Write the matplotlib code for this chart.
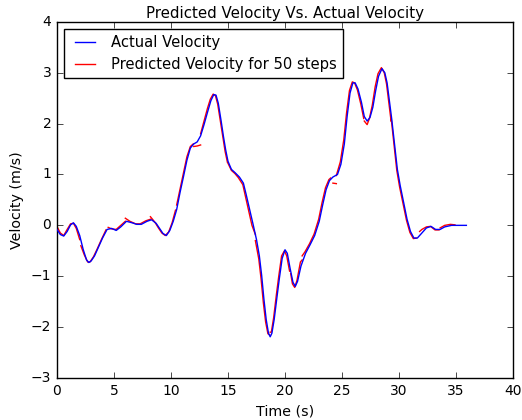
import numpy as np
import matplotlib
matplotlib.use("Agg")
import matplotlib.pyplot as plt

nan = np.nan

# === DATA ===
actual_t = [0.0, 0.3, 0.6, 0.9, 1.2, 1.45, 1.7, 2.0, 2.3, 2.6, 2.8, 3.0, 3.3, 3.6, 4.0, 4.4,
            4.8, 5.2, 5.6, 6.1, 6.6, 7.0, 7.4, 7.9, 8.3, 8.7, 9.0, 9.3, 9.6, 9.9, 10.2, 10.5,
            10.8, 11.1, 11.4, 11.7, 12.0, 12.3, 12.6, 12.9, 13.2, 13.5, 13.75, 13.95, 14.15,
            14.4, 14.6, 14.8, 15.0, 15.3, 15.6, 16.0, 16.35, 16.6, 16.9, 17.2, 17.5, 17.75,
            17.95, 18.15, 18.35, 18.55, 18.7, 18.85, 19.05, 19.3, 19.5, 19.75, 20.0, 20.2,
            20.45, 20.7, 20.9, 21.1, 21.4, 21.8, 22.2, 22.6, 23.0, 23.3, 23.6, 23.9, 24.2,
            24.6, 24.9, 25.2, 25.45, 25.7, 25.95, 26.15, 26.4, 26.7, 26.95, 27.2, 27.45, 27.7,
            27.95, 28.2, 28.5, 28.75, 28.95, 29.15, 29.35, 29.6, 29.85, 30.1, 30.4, 30.7,
            31.0, 31.3, 31.6, 32.0, 32.4, 32.8, 33.2, 33.6, 34.0, 34.6, 35.2, 35.9]
actual_v = [-0.08, -0.18, -0.21, -0.12, 0.01, 0.05, -0.02, -0.2, -0.47, -0.68, -0.73, -0.70,
            -0.6, -0.45, -0.25, -0.08, -0.06, -0.1, -0.03, 0.08, 0.05, 0.02, 0.02, 0.08, 0.11,
            0.04, -0.06, -0.16, -0.2, -0.1, 0.08, 0.31, 0.65, 0.96, 1.28, 1.52, 1.6, 1.64,
            1.76, 1.98, 2.22, 2.45, 2.57, 2.56, 2.4, 2.05, 1.75, 1.48, 1.26, 1.1, 1.04, 0.95,
            0.83, 0.6, 0.31, 0.02, -0.28, -0.6, -0.98, -1.45, -1.85, -2.12, -2.19, -2.12,
            -1.85, -1.4, -1.05, -0.65, -0.48, -0.55, -0.85, -1.12, -1.2, -1.1, -0.8, -0.55,
            -0.38, -0.2, 0.08, 0.4, 0.7, 0.88, 0.95, 1.0, 1.2, 1.6, 2.15, 2.6, 2.8, 2.8, 2.68,
            2.42, 2.14, 2.05, 2.12, 2.32, 2.65, 2.93, 3.08, 3.0, 2.8, 2.45, 2.1, 1.6, 1.1,
            0.78, 0.45, 0.12, -0.12, -0.25, -0.25, -0.15, -0.05, -0.02, -0.08, -0.08, -0.03,
            0.0, 0.0, 0.0]

# predicted segments (50 steps each), separated by nan
pred_t = [0.0, 0.3, 0.6, 0.9, 1.2, 1.45, 1.7, 2.0, nan,
          2.1, 2.4, 2.7, 2.9, 3.2, 3.5, 3.9, 4.3, nan,
          4.5, 4.8, 5.2, 5.6, 6.0, nan,
          6.0, 6.4, 6.9, 7.3, 7.8, 8.2, nan,
          8.2, 8.6, 8.9, 9.2, 9.5, 9.8, 10.1, 10.4, nan,
          10.5, 10.8, 11.1, 11.4, 11.7, 11.95, nan,
          12.0, 12.3, 12.6, nan,
          12.6, 12.9, 13.2, 13.45, 13.7, 13.9, 14.1, 14.35, 14.55, 14.75, 14.95, nan,
          15.0, 15.3, 15.6, 15.9, 16.3, 16.55, 16.85, 17.1, 17.4, nan,
          17.4, 17.7, 17.9, 18.1, 18.3, 18.5, 18.65, nan,
          18.7, 18.8, 19.0, 19.25, 19.45, 19.7, 19.95, 20.15, 20.4, nan,
          20.5, 20.65, 20.85, 21.05, 21.35, 21.5, nan,
          21.5, 21.75, 22.15, 22.55, 22.95, 23.25, 23.55, 23.85, 24.0, nan,
          24.2, 24.5, nan,
          24.5, 24.85, 25.15, 25.4, 25.65, 25.9, 26.1, 26.35, 26.65, 26.9, nan,
          26.95, 27.2, 27.4, 27.65, 27.9, 28.15, 28.45, 28.7, 28.9, 29.1, 29.3, nan,
          29.3, 29.55, 29.8, 30.05, 30.35, 30.65, 30.95, 31.25, 31.5, nan,
          31.8, 32.0, 32.4, 32.75, 33.15, 33.5, nan,
          33.6, 34.0, 34.5, 34.9]
pred_v = [-0.02, -0.15, -0.2, -0.08, 0.03, 0.04, -0.06, -0.28, nan,
          -0.4, -0.58, -0.72, -0.72, -0.62, -0.48, -0.28, -0.09, nan,
          -0.04, -0.07, -0.08, 0.0, 0.08, nan,
          0.14, 0.08, 0.03, 0.03, 0.09, 0.12, nan,
          0.17, 0.06, -0.05, -0.15, -0.2, -0.13, 0.05, 0.3, nan,
          0.4, 0.72, 1.05, 1.35, 1.55, 1.6, nan,
          1.55, 1.56, 1.58, nan,
          1.8, 2.05, 2.3, 2.48, 2.58, 2.55, 2.38, 2.02, 1.72, 1.45, 1.24, nan,
          1.22, 1.08, 1.02, 0.94, 0.8, 0.55, 0.25, 0.0, -0.18, nan,
          -0.3, -0.66, -1.05, -1.52, -1.9, -2.13, -2.15, nan,
          -2.1, -2.1, -1.82, -1.35, -1.0, -0.6, -0.5, -0.6, -0.9, nan,
          -0.95, -1.15, -1.22, -1.08, -0.72, -0.68, nan,
          -0.6, -0.52, -0.36, -0.17, 0.12, 0.45, 0.74, 0.9, 0.93, nan,
          0.83, 0.82, nan,
          0.98, 1.25, 1.68, 2.22, 2.65, 2.82, 2.8, 2.66, 2.38, 2.1, nan,
          2.05, 1.98, 2.1, 2.36, 2.72, 2.98, 3.1, 3.0, 2.78, 2.42, 2.05, nan,
          2.12, 1.6, 1.08, 0.75, 0.42, 0.1, -0.14, -0.26, -0.25, nan,
          -0.12, -0.08, -0.03, -0.02, -0.09, -0.09, nan,
          -0.05, 0.0, 0.02, 0.01]

# === PLOT ===
plt.style.use("classic")
plt.rcParams["font.size"] = 10.5

fig = plt.figure(figsize=(5.22, 4.2), dpi=100, facecolor="white")
ax = fig.add_axes([0.109, 0.1, 0.874, 0.848])

ax.plot(pred_t, pred_v, color="red", lw=1.0, label="Predicted Velocity for 50 steps", zorder=2)
ax.plot(actual_t, actual_v, color="blue", lw=1.0, label="Actual Velocity", zorder=3)

ax.set_xlim(0, 40)
ax.set_ylim(-3, 4)
ax.set_title("Predicted Velocity Vs. Actual Velocity", fontsize=10.8, pad=3)
ax.set_xlabel("Time (s)", fontsize=10.3)
ax.set_ylabel("Velocity (m/s)", fontsize=10.3)
ax.tick_params(labelsize=10)

handles, labels = ax.get_legend_handles_labels()
ax.legend(handles[::-1], labels[::-1], loc="upper left", fontsize=10.6)

fig.savefig("out.png", dpi=100, facecolor="white")
